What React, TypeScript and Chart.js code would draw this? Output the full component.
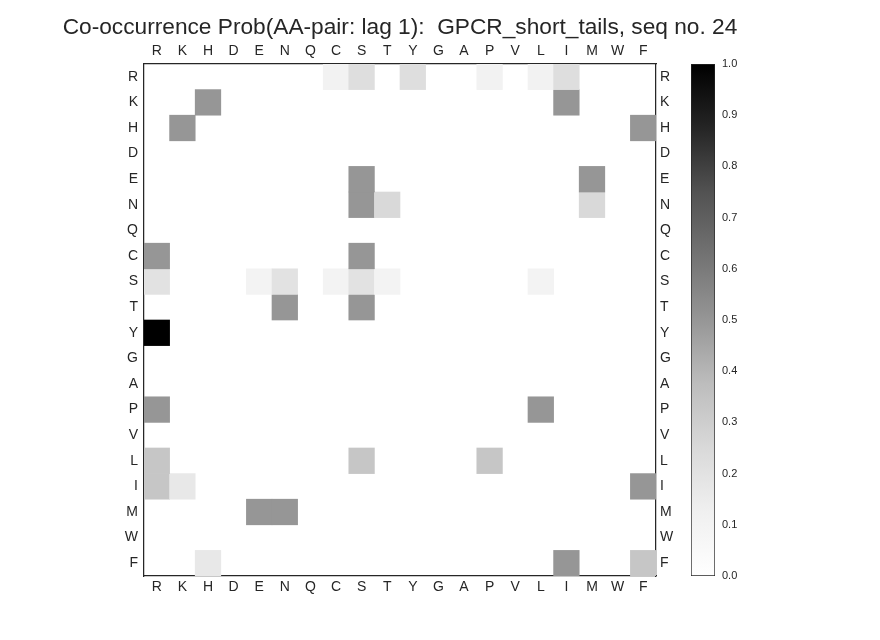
import React, { useEffect, useRef } from 'react';
import { Chart, registerables } from 'chart.js';

Chart.register(...registerables);

const FONT = "'Liberation Sans', Arial, sans-serif";
const INK = '#262626';

const rowLabels = ['R', 'K', 'H', 'D', 'E', 'N', 'Q', 'C', 'S', 'T', 'Y', 'G', 'A', 'P', 'V', 'L', 'I', 'M', 'W', 'F'];
const colLabels = ['R', 'K', 'H', 'D', 'E', 'N', 'Q', 'C', 'S', 'T', 'Y', 'G', 'A', 'P', 'V', 'L', 'I', 'M', 'W', 'F'];

// co-occurrence probabilities, one row per first residue (columns in colLabels order)
//              R    K    H    D    E    N    Q    C    S    T    Y    G    A    P    V    L    I    M    W    F
const probR = [0, 0, 0, 0, 0, 0, 0, 1 / 9, 2 / 9, 0, 2 / 9, 0, 0, 1 / 9, 0, 1 / 9, 2 / 9, 0, 0, 0];
const probK = [0, 0, 0.5, 0, 0, 0, 0, 0, 0, 0, 0, 0, 0, 0, 0, 0, 0.5, 0, 0, 0];
const probH = [0, 0.5, 0, 0, 0, 0, 0, 0, 0, 0, 0, 0, 0, 0, 0, 0, 0, 0, 0, 0.5];
const probD = [0, 0, 0, 0, 0, 0, 0, 0, 0, 0, 0, 0, 0, 0, 0, 0, 0, 0, 0, 0];
const probE = [0, 0, 0, 0, 0, 0, 0, 0, 0.5, 0, 0, 0, 0, 0, 0, 0, 0, 0.5, 0, 0];
const probN = [0, 0, 0, 0, 0, 0, 0, 0, 0.5, 0.25, 0, 0, 0, 0, 0, 0, 0, 0.25, 0, 0];
const probQ = [0, 0, 0, 0, 0, 0, 0, 0, 0, 0, 0, 0, 0, 0, 0, 0, 0, 0, 0, 0];
const probC = [0.5, 0, 0, 0, 0, 0, 0, 0, 0.5, 0, 0, 0, 0, 0, 0, 0, 0, 0, 0, 0];
const probS = [0.2, 0, 0, 0, 0.1, 0.2, 0, 0.1, 0.2, 0.1, 0, 0, 0, 0, 0, 0.1, 0, 0, 0, 0];
const probT = [0, 0, 0, 0, 0, 0.5, 0, 0, 0.5, 0, 0, 0, 0, 0, 0, 0, 0, 0, 0, 0];
const probY = [1, 0, 0, 0, 0, 0, 0, 0, 0, 0, 0, 0, 0, 0, 0, 0, 0, 0, 0, 0];
const probG = [0, 0, 0, 0, 0, 0, 0, 0, 0, 0, 0, 0, 0, 0, 0, 0, 0, 0, 0, 0];
const probA = [0, 0, 0, 0, 0, 0, 0, 0, 0, 0, 0, 0, 0, 0, 0, 0, 0, 0, 0, 0];
const probP = [0.5, 0, 0, 0, 0, 0, 0, 0, 0, 0, 0, 0, 0, 0, 0, 0.5, 0, 0, 0, 0];
const probV = [0, 0, 0, 0, 0, 0, 0, 0, 0, 0, 0, 0, 0, 0, 0, 0, 0, 0, 0, 0];
const probL = [1 / 3, 0, 0, 0, 0, 0, 0, 0, 1 / 3, 0, 0, 0, 0, 1 / 3, 0, 0, 0, 0, 0, 0];
const probI = [1 / 3, 1 / 6, 0, 0, 0, 0, 0, 0, 0, 0, 0, 0, 0, 0, 0, 0, 0, 0, 0, 0.5];
const probM = [0, 0, 0, 0, 0.5, 0.5, 0, 0, 0, 0, 0, 0, 0, 0, 0, 0, 0, 0, 0, 0];
const probW = [0, 0, 0, 0, 0, 0, 0, 0, 0, 0, 0, 0, 0, 0, 0, 0, 0, 0, 0, 0];
const probF = [0, 0, 1 / 6, 0, 0, 0, 0, 0, 0, 0, 0, 0, 0, 0, 0, 0, 0.5, 0, 0, 1 / 3];

const probRows = [probR, probK, probH, probD, probE, probN, probQ, probC, probS, probT,
  probY, probG, probA, probP, probV, probL, probI, probM, probW, probF];

const title = 'Co-occurrence Prob(AA-pair: lag 1):  GPCR_short_tails, seq no. 24';

// matplotlib "Greys" colour stops (grey level at 0, 1/8, ... 1)
const greyStops = [255, 240, 217, 189, 150, 115, 82, 37, 0];

const greys = (v: number) => {
  const t = Math.max(0, Math.min(1, v)) * (greyStops.length - 1);
  const i = Math.min(Math.floor(t), greyStops.length - 2);
  const g = Math.round(greyStops[i] + (greyStops[i + 1] - greyStops[i]) * (t - i));
  return `rgb(${g},${g},${g})`;
};

const tickFont = { family: FONT, size: 14 };
const titleSize = 22.7;
const titleTop = 14;

const rowAxis = (position: 'left' | 'right', padding: number) => ({
  type: 'linear' as const,
  position,
  min: -0.5,
  max: 19.5,
  reverse: true,
  z: 1,
  grid: { display: false, drawTicks: false },
  border: { display: true, color: INK, width: 1.25 },
  afterBuildTicks: (axis: any) => {
    axis.ticks = rowLabels.map((_, i) => ({ value: i }));
  },
  afterFit: (axis: any) => {
    axis.width = 144;
  },
  ticks: {
    color: INK,
    font: tickFont,
    padding,
    autoSkip: false,
    callback: (v: any) => rowLabels[Number(v)] ?? '',
  },
});

const colAxis = (position: 'top' | 'bottom', height: number, padding: number) => ({
  type: 'category' as const,
  position,
  labels: colLabels,
  offset: true,
  z: 1,
  grid: { display: false, drawTicks: false },
  border: { display: true, color: INK, width: 1.25 },
  afterFit: (axis: any) => {
    axis.height = height;
  },
  ticks: { color: INK, font: tickFont, padding, autoSkip: false, maxRotation: 0 },
});

const Heatmap: React.FC = () => {
  const canvasRef = useRef<HTMLCanvasElement | null>(null);

  useEffect(() => {
    if (!canvasRef.current) return;

    const datasets = rowLabels.map((name, i) => ({
      label: name,
      data: probRows[i].map((p) => (p > 0 ? [i - 0.5, i + 0.5] : null)),
      backgroundColor: probRows[i].map((p) => greys(p)),
      borderWidth: 0,
      grouped: false,
      categoryPercentage: 1,
      barPercentage: 1,
    }));

    // top axis fills the gap between the title box and the plot top (y = 64)
    const topAxisHeight = 64 - (titleTop + titleSize * 1.2);

    const chart = new Chart(canvasRef.current, {
      type: 'bar',
      data: { labels: colLabels, datasets: datasets as any },
      options: {
        responsive: false,
        animation: false,
        layout: { padding: 0 },
        scales: {
          x: colAxis('bottom', 64, 3) as any,
          x2: colAxis('top', topAxisHeight, 4) as any,
          y: rowAxis('left', 6) as any,
          y2: rowAxis('right', 4) as any,
        },
        plugins: {
          legend: { display: false },
          tooltip: { enabled: false },
          title: {
            display: true,
            text: title,
            color: INK,
            font: { family: FONT, size: titleSize, weight: 'normal' },
            padding: { top: titleTop, bottom: 0 },
          },
        },
      },
    });

    return () => {
      chart.destroy();
    };
  }, []);

  return (
    <canvas
      ref={canvasRef}
      width={800}
      height={640}
      style={{ position: 'absolute', left: 0, top: 0, width: 800, height: 640 }}
    />
  );
};

const Colorbar: React.FC = () => {
  const canvasRef = useRef<HTMLCanvasElement | null>(null);

  useEffect(() => {
    if (!canvasRef.current) return;

    const chart = new Chart(canvasRef.current, {
      type: 'bar',
      data: {
        labels: [''],
        datasets: [
          {
            data: [[0, 1]] as any,
            backgroundColor: (ctx: any) => {
              const area = ctx.chart.chartArea;
              if (!area) return greys(0.5);
              const grad = ctx.chart.ctx.createLinearGradient(0, area.bottom, 0, area.top);
              greyStops.forEach((_, i) => {
                const v = i / (greyStops.length - 1);
                grad.addColorStop(v, greys(v));
              });
              return grad;
            },
            borderColor: INK,
            borderWidth: 1,
            borderSkipped: false,
            categoryPercentage: 1,
            barPercentage: 1,
          },
        ],
      },
      options: {
        responsive: false,
        animation: false,
        layout: { padding: { top: 64, bottom: 64, left: 11, right: 0 } },
        scales: {
          x: { display: false },
          y: {
            position: 'right',
            min: 0,
            max: 1,
            grid: { display: false, drawTicks: false },
            border: { display: false },
            afterFit: (axis: any) => {
              axis.width = 85;
            },
            ticks: {
              stepSize: 0.1,
              color: INK,
              font: { family: FONT, size: 11 },
              padding: 7,
              callback: (v: any) => Number(v).toFixed(1),
            },
          },
        },
        plugins: {
          legend: { display: false },
          tooltip: { enabled: false },
        },
      },
    });

    return () => {
      chart.destroy();
    };
  }, []);

  return (
    <canvas
      ref={canvasRef}
      width={120}
      height={640}
      style={{ position: 'absolute', left: 680, top: 0, width: 120, height: 640 }}
    />
  );
};

const App: React.FC = () => (
  <div style={{ position: 'absolute', left: 0, top: 0, width: 880, height: 640, background: '#ffffff' }}>
    <Heatmap />
    <Colorbar />
  </div>
);

export default App;
